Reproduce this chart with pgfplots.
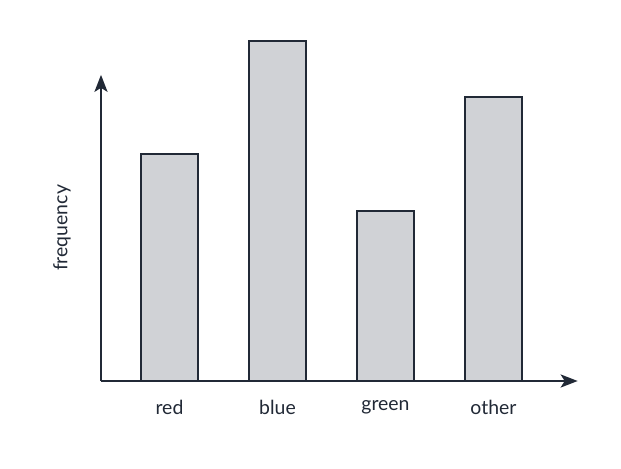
\documentclass[border=0pt]{standalone}
\usepackage{fontspec}
\setmainfont{Lato}
\usepackage{pgfplots}
\pgfplotsset{compat=1.18}
\usetikzlibrary{arrows.meta,calc}
\definecolor{ink}{RGB}{33,41,54}
\definecolor{barfill}{RGB}{208,210,214}
\tikzset{
    axisarrow/.style={-{Stealth[length=17bp,width=13bp,inset=4bp]}}
}
\begin{document}
\begin{tikzpicture}
\begin{axis}[
    x=108bp, y=56.7bp,
    xmin=-0.634, xmax=3.78,
    ymin=0, ymax=5.4,
    axis lines=left,
    axis line style={ink, line width=2.4bp},
    every outer x axis line/.append style={axisarrow},
    every outer y axis line/.append style={axisarrow},
    clip=false,
    xtick={0,1,2,3},
    xticklabels={red,blue,green,other},
    ytick=\empty,
    major tick length=0pt,
    tick label style={font=\fontsize{19.5}{23}\selectfont, text=ink},
    xticklabel style={yshift=-16bp},
    ylabel={frequency},
    ylabel style={font=\fontsize{19.5}{23}\selectfont, text=ink,
        at={(axis description cs:-0.082,0.5)}, anchor=center},
    ybar, bar width=57bp, bar shift=0pt,
]
\addplot[fill=barfill, draw=ink, line width=2bp] coordinates {
    (0,4) (1,6) (2,3) (3,5)
};
\coordinate (o) at (axis cs:-0.634,0);
\end{axis}
\useasboundingbox ($(o)+(-101bp,-88bp)$) rectangle ($(o)+(520bp,381bp)$);
\end{tikzpicture}
\end{document}
